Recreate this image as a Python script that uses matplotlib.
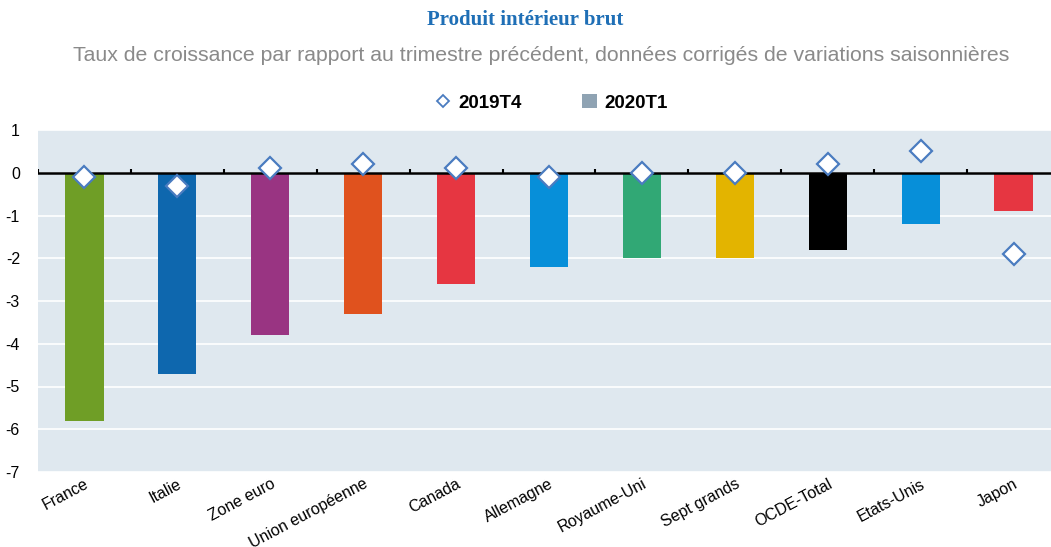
import numpy as np
import matplotlib.pyplot as plt
from matplotlib.lines import Line2D
from matplotlib.patches import Patch

plt.rcParams['font.family'] = ['Liberation Sans', 'DejaVu Sans']
plt.rcParams['axes.unicode_minus'] = False

# data
pays = ["France", "Italie", "Zone euro", "Union européenne", "Canada", "Allemagne",
        "Royaume-Uni", "Sept grands", "OCDE-Total", "Etats-Unis", "Japon"]
t1_2020 = [-5.8, -4.7, -3.8, -3.3, -2.6, -2.2, -2.0, -2.0, -1.8, -1.2, -0.9]
t4_2019 = [-0.1, -0.3, 0.1, 0.2, 0.1, -0.1, 0.0, 0.0, 0.2, 0.5, -1.9]
couleurs = ["#6f9e26", "#0e67ae", "#993482", "#e0521e", "#e63641", "#078fd9",
            "#31a875", "#e3b400", "#000000", "#078fd9", "#e63641"]

fig = plt.figure(figsize=(10.51, 5.47), dpi=100)
ax = fig.add_axes([38/1051, 1-472/547, 1-38/1051, (472-130)/547])
ax.set_facecolor("#dfe8ef")

x = np.arange(len(pays))
ax.bar(x, t1_2020, width=0.41, color=couleurs, zorder=2)
ax.plot(x, t4_2019, linestyle="none", marker="D", markersize=11,
        markerfacecolor="white", markeredgecolor="#4a7cc0", markeredgewidth=1.6, zorder=4)

# zero line with ticks at category boundaries
ax.axhline(0, color="black", linewidth=1.8, zorder=3)
bornes = np.arange(len(pays)) - 0.5
ax.vlines(bornes, 0, 0.09, color="black", linewidth=1.5, zorder=3)

ax.set_ylim(-7, 1)
ax.set_xlim(-0.5, len(pays) - 0.5 - 9/92.9)
ax.set_yticks(range(-7, 2))
ax.grid(axis="y", color="white", linewidth=1.2, zorder=1)
ax.set_axisbelow(True)
for s in ax.spines.values():
    s.set_visible(False)
ax.tick_params(axis="y", length=0, labelsize=11.5, pad=13)
ax.tick_params(axis="x", length=0, labelsize=11.5, pad=3)
ax.set_xticks(x)
ax.set_xticklabels(pays, rotation=28, ha="right", rotation_mode="anchor")

fig.text(0.5, 1-20/547, "Produit intérieur brut", ha="center", va="center",
         fontsize=15, fontweight="bold", color="#1f6fb6", family="Liberation Serif")
fig.text(0.515, 1-55/547, "Taux de croissance par rapport au trimestre précédent, données corrigés de variations saisonnières",
         ha="center", va="center", fontsize=15.3, color="#8a8a8a")

handles = [Line2D([], [], linestyle="none", marker="D", markersize=6, markerfacecolor="white",
                  markeredgecolor="#4a7cc0", markeredgewidth=1.3),
           Patch(facecolor="#8fa3b3")]
fig.legend(handles, ["2019T4", "2020T1"], loc="center", bbox_to_anchor=(0.525, 1-103/547),
           ncol=2, frameon=False, prop={"weight": "bold", "size": 13.5}, columnspacing=3.2,
           handlelength=0.8, handletextpad=0.4)

fig.savefig("out.png", dpi=100)
